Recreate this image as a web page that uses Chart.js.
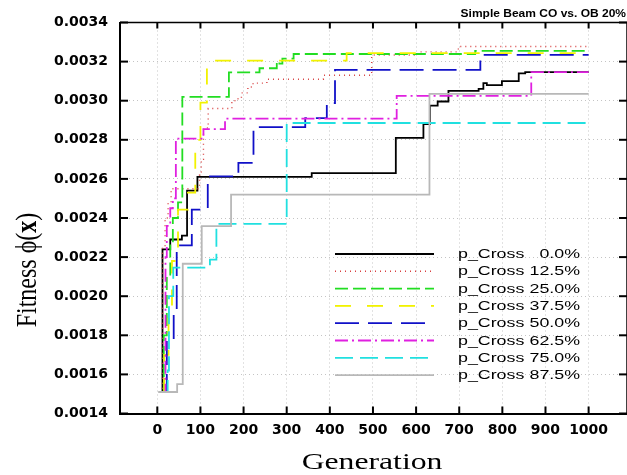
<!DOCTYPE html>
<html><head><meta charset="utf-8">
<script src="https://cdn.jsdelivr.net/npm/chart.js@4/dist/chart.umd.min.js"></script>
<style>html,body{margin:0;padding:0;background:#fff;overflow:hidden}#wrap{width:627px;height:475px}</style>
</head><body><div id="wrap"><canvas id="c" width="627" height="475"></canvas></div>
<script>
// ---- data ----
const chartTitle = 'Simple Beam CO vs. OB 20%';
const xTitle = 'Generation';
const yTitle = 'Fitness \u03D5(';
const seriesLabels = ['p_Cross', 'p_Cross', 'p_Cross', 'p_Cross', 'p_Cross', 'p_Cross', 'p_Cross', 'p_Cross'];
const seriesRates = ['0.0%', '12.5%', '25.0%', '37.5%', '50.0%', '62.5%', '75.0%', '87.5%'];
const xTicks = [0, 100, 200, 300, 400, 500, 600, 700, 800, 900, 1000];
const yTicks = [0.0014, 0.0016, 0.0018, 0.0020, 0.0022, 0.0024, 0.0026, 0.0028, 0.0030, 0.0032, 0.0034];

const gen000 = [10, 12, 30, 57, 69, 93, 358, 553, 617, 632, 650, 675, 745, 756, 764, 799, 838, 853, 1000];
const fit000 = [0.00151, 0.00224, 0.00229, 0.00231, 0.00254, 0.00261, 0.00263, 0.00281, 0.00288, 0.002975, 0.002996, 0.00305, 0.00306, 0.00309, 0.00308, 0.00310, 0.00314, 0.003146, 0.003146];

const gen125 = [8, 12, 18, 25, 32, 98, 102, 107, 118, 173, 180, 195, 210, 222, 254, 385, 497, 605, 698, 1000];
const fit125 = [0.00151, 0.00225, 0.00240, 0.00248, 0.00255, 0.00262, 0.00270, 0.00286, 0.00296, 0.00299, 0.00301, 0.00304, 0.00307, 0.00309, 0.00311, 0.00313, 0.003234, 0.00325, 0.003277, 0.003277];

const gen250 = [8, 15, 22, 30, 36, 48, 58, 166, 237, 277, 283, 290, 316, 737, 1000];
const fit250 = [0.00151, 0.00180, 0.00210, 0.00228, 0.00240, 0.00248, 0.00302, 0.003145, 0.003166, 0.00320, 0.00319, 0.003215, 0.003239, 0.003255, 0.003255];

const gen375 = [12, 16, 26, 34, 48, 71, 88, 100, 115, 130, 439, 1000];
const fit375 = [0.00151, 0.00170, 0.00195, 0.00218, 0.002443, 0.00253, 0.00280, 0.00299, 0.003183, 0.003205, 0.003243, 0.003243];

const gen500 = [8, 22, 38, 45, 80, 117, 188, 223, 343, 393, 412, 749, 1000];
const fit500 = [0.00151, 0.00178, 0.00192, 0.00226, 0.002443, 0.002613, 0.002682, 0.002865, 0.002911, 0.002988, 0.003158, 0.003234, 0.003234];

const gen625 = [8, 19, 22, 30, 36, 43, 107, 157, 555, 867, 1000];
const fit625 = [0.00151, 0.00220, 0.00236, 0.00245, 0.00250, 0.002806, 0.002855, 0.002908, 0.003025, 0.003146, 0.003146];

const gen750 = [10, 24, 27, 37, 122, 137, 300, 1000];
const fit750 = [0.00151, 0.00162, 0.00200, 0.002146, 0.002187, 0.00237, 0.002886, 0.002886];

const gen875 = [2, 46, 59, 103, 171, 631, 1000];
const fit875 = [0.00151, 0.00155, 0.002166, 0.002358, 0.00252, 0.003035, 0.003035];

// ---- styles ----
const styles = [
  {color: '#000000', dash: [], width: 1.8},
  {color: '#d84040', dash: [1, 4], width: 1.4},
  {color: '#22dd22', dash: [13, 5], width: 1.8},
  {color: '#f2f200', dash: [16, 16], width: 1.8},
  {color: '#1010c8', dash: [24, 9], width: 1.8},
  {color: '#e020e0', dash: [13, 4, 2, 4], width: 1.8},
  {color: '#20e0e0', dash: [18, 7], width: 1.8},
  {color: '#b8b8b8', dash: [], width: 1.8}
];
const gens = [gen000, gen125, gen250, gen375, gen500, gen625, gen750, gen875];
const fits = [fit000, fit125, fit250, fit375, fit500, fit625, fit750, fit875];

const datasets = gens.map((g, i) => ({
  label: seriesLabels[i] + ' ' + seriesRates[i],
  data: g.map((x, k) => ({x: x, y: fits[i][k]})),
  borderColor: styles[i].color,
  borderDash: styles[i].dash,
  borderWidth: styles[i].width,
  pointRadius: 0,
  fill: false,
  stepped: true,
  tension: 0
})).reverse();

const deco = {
  id: 'deco',
  afterDraw(chart) {
    const {ctx, chartArea: a, scales: {x, y}} = chart;
    ctx.save();
    const line = (x1, y1, x2, y2) => { ctx.beginPath(); ctx.moveTo(x1, y1); ctx.lineTo(x2, y2); ctx.stroke(); };
    ctx.setLineDash([]);
    ctx.strokeStyle = '#000';
    ctx.lineWidth = 1.5;
    line(a.left, a.top, a.right, a.top);
    line(a.right, a.top, a.right, a.bottom);
    ctx.lineWidth = 2;
    xTicks.forEach(v => { const p = x.getPixelForValue(v); line(p, a.bottom, p, a.bottom - 7); line(p, a.top, p, a.top + 6); });
    yTicks.forEach(v => { const p = y.getPixelForValue(v); line(a.left, p, a.left + 8, p); line(a.right, p, a.right - 8, p); });

    // title
    ctx.fillStyle = '#000';
    ctx.save();
    ctx.translate(626, 17);
    ctx.scale(1.2, 1);
    ctx.font = 'bold 10px "Liberation Sans", Arial, sans-serif';
    ctx.textAlign = 'right';
    ctx.textBaseline = 'alphabetic';
    ctx.fillText(chartTitle, 0, 0);
    ctx.restore();

    // x title
    ctx.save();
    ctx.translate(372, 469);
    ctx.scale(1.32, 1);
    ctx.font = '24px "Liberation Serif", "Times New Roman", serif';
    ctx.textAlign = 'center';
    ctx.fillText(xTitle, 0, 0);
    ctx.restore();

    // y title
    ctx.save();
    ctx.translate(36, 270);
    ctx.scale(1.2, 1);
    ctx.rotate(-Math.PI / 2);
    ctx.font = '24px "Liberation Serif", "Times New Roman", serif';
    ctx.textAlign = 'left';
    const w1 = ctx.measureText(yTitle).width;
    ctx.font = 'bold 24px "Liberation Serif", "Times New Roman", serif';
    const w2 = ctx.measureText('x').width;
    ctx.font = '24px "Liberation Serif", "Times New Roman", serif';
    const w3 = ctx.measureText(')').width;
    const tot = w1 + w2 + w3;
    let sx = -tot / 2;
    ctx.fillText(yTitle, sx, 0);
    ctx.font = 'bold 24px "Liberation Serif", "Times New Roman", serif';
    ctx.fillText('x', sx + w1, 0);
    ctx.font = '24px "Liberation Serif", "Times New Roman", serif';
    ctx.fillText(')', sx + w1 + w2, 0);
    ctx.restore();

    // legend
    const rowY = 254, rowH = 17.3;
    for (let i = 0; i < 8; i++) {
      const yy = rowY + i * rowH;
      ctx.save();
      ctx.strokeStyle = styles[i].color;
      ctx.lineWidth = styles[i].width;
      ctx.setLineDash(styles[i].dash);
      line(335, yy, 434, yy);
      ctx.restore();
      ctx.save();
      ctx.fillStyle = '#000';
      ctx.font = '13px "Liberation Sans", Arial, sans-serif';
      ctx.textBaseline = 'middle';
      ctx.translate(458, yy + 0.5);
      ctx.scale(1.37, 1);
      ctx.textAlign = 'left';
      ctx.fillText(seriesLabels[i], 0, 0);
      ctx.textAlign = 'right';
      ctx.fillText(seriesRates[i], (580 - 458) / 1.37, 0);
      ctx.restore();
    }
    ctx.restore();
  }
};

new Chart(document.getElementById('c'), {
  type: 'line',
  data: {datasets: datasets},
  plugins: [deco],
  options: {
    responsive: false,
    animation: false,
    devicePixelRatio: 1,
    layout: {padding: {top: 22.5, right: 0, left: 0, bottom: 0}},
    plugins: {legend: {display: false}, tooltip: {enabled: false}, title: {display: false}},
    scales: {
      x: {
        type: 'linear', min: -86.5, max: 1089,
        afterBuildTicks: s => { s.ticks = xTicks.map(v => ({value: v})); },
        afterFit: s => { s.height = 61.5; },
        grid: {color: '#c4c4c4', lineWidth: 1, drawTicks: false},
        border: {display: true, color: '#000', width: 2, dash: [1, 3]},
        ticks: {padding: 8, color: '#000', autoSkip: false, maxRotation: 0,
          font: {family: 'DejaVu Sans', size: 14, weight: 'bold'},
          callback: v => String(v)}
      },
      y: {
        type: 'linear', min: 0.0014, max: 0.0034,
        afterBuildTicks: s => { s.ticks = yTicks.map(v => ({value: v})); },
        afterFit: s => { s.width = 120; },
        grid: {color: '#c4c4c4', lineWidth: 1, drawTicks: false},
        border: {display: true, color: '#000', width: 2, dash: [1, 3]},
        ticks: {padding: 12, color: '#000',
          font: {family: 'DejaVu Sans', size: 14, weight: 'bold'},
          callback: v => Number(v).toFixed(4)}
      }
    }
  }
});
</script></body></html>
